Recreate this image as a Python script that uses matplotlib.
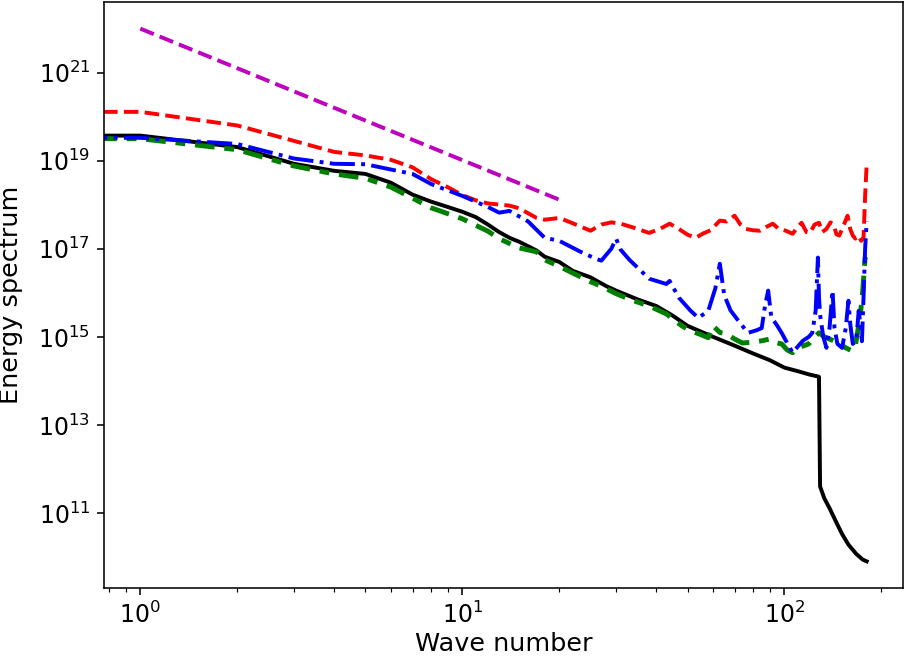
import numpy as np
import matplotlib
matplotlib.use("Agg")
import matplotlib.pyplot as plt

# -------------------------------
# Data (energies stored as log10 values)
# k = 0 is kept so the curves run to the left edge like the original
# -------------------------------
black_k = [0, 1, 2, 3, 4, 5, 6, 7, 8, 9, 10, 11, 12, 13, 14, 15, 17, 18, 20,
           22, 25, 28, 30, 35, 40, 45, 50, 60, 70, 80, 90, 100, 110, 120, 127,
           128, 129, 133, 138, 145, 151, 158, 167, 175, 180]
black_log = [19.57, 19.57, 19.31, 18.93, 18.77, 18.70, 18.50, 18.23, 18.07,
             17.95, 17.84, 17.72, 17.55, 17.38, 17.25, 17.16, 16.96, 16.82,
             16.70, 16.50, 16.35, 16.15, 16.05, 15.85, 15.70, 15.48, 15.25,
             15.00, 14.80, 14.62, 14.47, 14.30, 14.22, 14.14, 14.10, 14.09,
             11.60, 11.33, 11.11, 10.78, 10.52, 10.28, 10.07, 9.94, 9.90]

red_k = [0, 1, 2, 3, 4, 5, 6, 7, 8, 9, 10, 11, 12, 14, 15, 17, 18, 20, 22, 23,
         25, 27, 29, 31, 34, 38, 41, 44, 47, 50, 53, 56, 59, 63, 66, 70, 73,
         76, 80, 84, 88, 92, 96, 101, 106, 110, 113, 117, 120, 124, 128, 131,
         135, 139, 142, 145, 148, 152, 157, 160, 163, 166, 170, 173, 176, 178,
         180]
red_log = [20.11, 20.11, 19.80, 19.45, 19.20, 19.12, 19.02, 18.85, 18.58,
           18.40, 18.22, 18.10, 18.03, 17.98, 17.92, 17.70, 17.66, 17.70,
           17.58, 17.52, 17.41, 17.55, 17.60, 17.57, 17.48, 17.36, 17.45,
           17.57, 17.45, 17.32, 17.25, 17.35, 17.42, 17.64, 17.62, 17.75,
           17.55, 17.45, 17.42, 17.41, 17.50, 17.57, 17.45, 17.41, 17.34,
           17.50, 17.59, 17.38, 17.36, 17.55, 17.59, 17.38, 17.45, 17.60,
           17.55, 17.33, 17.30, 17.50, 17.75, 17.45, 17.30, 17.23, 17.30,
           17.18, 17.25, 18.20, 18.92]

blue_k = [0, 1, 2, 3, 4, 5, 6, 7, 8, 10, 12, 13, 14, 16, 18, 20, 23, 26, 27,
          29, 30, 31, 33, 35, 38, 43, 44, 47, 51, 54, 58, 61, 63, 65, 68, 72,
          77, 82, 85, 87, 89, 91, 95, 98, 103, 106, 110, 114, 119, 122, 125,
          127, 128, 129, 132, 135, 138, 141, 143, 146, 151, 155, 158, 160,
          163, 167, 170, 172, 174, 176, 178, 180]
blue_log = [19.52, 19.52, 19.38, 19.05, 18.93, 18.92, 18.80, 18.70, 18.47,
            18.20, 17.95, 17.82, 17.86, 17.62, 17.25, 17.18, 16.95, 16.77,
            16.73, 17.00, 17.23, 16.98, 16.75, 16.57, 16.32, 16.20, 16.27,
            15.89, 15.60, 15.43, 15.59, 16.10, 16.66, 15.95, 15.60, 15.36,
            15.09, 15.15, 15.20, 15.70, 16.05, 15.45, 15.25, 15.09, 14.80,
            14.64, 14.78, 14.91, 15.00, 15.09, 15.60, 16.80, 15.90, 15.50,
            15.00, 14.75, 15.20, 16.05, 15.20, 14.84, 14.75, 15.20, 15.82,
            15.30, 14.84, 14.90, 15.59, 15.30, 14.90, 15.90, 17.00, 17.62]

green_k = [0, 1, 2, 3, 4, 5, 6, 7, 8, 10, 12, 13, 15, 17, 18, 20, 23, 25, 27,
           30, 34, 38, 43, 48, 51, 55, 58, 60, 63, 66, 70, 74, 80, 85, 90, 95,
           98, 102, 106, 110, 115, 119, 124, 128, 133, 138, 143, 148, 155,
           162, 166, 169, 172, 175, 178, 180]
green_log = [19.50, 19.50, 19.25, 18.88, 18.70, 18.60, 18.40, 18.15, 17.93,
             17.68, 17.40, 17.23, 17.02, 16.93, 16.75, 16.60, 16.38, 16.25,
             16.15, 15.98, 15.82, 15.70, 15.52, 15.25, 15.14, 15.05, 14.98,
             15.25, 15.10, 15.07, 14.95, 14.86, 14.88, 14.91, 14.95, 14.86,
             14.84, 14.70, 14.64, 14.75, 14.80, 14.84, 15.00, 15.09, 15.00,
             14.95, 14.90, 14.84, 14.75, 14.68, 14.80, 15.14, 15.50, 16.05,
             16.80, 16.85]

ref_k = [1, 20]
ref_E = [1.0e22, 1.3e18]

# -------------------------------
# Plot
# -------------------------------
dpi = 141.4
fig = plt.figure(figsize=(905 / dpi, 657 / dpi), dpi=dpi)
ax = fig.add_axes([104 / 905, 1 - 588 / 657, 799 / 905, 586 / 657])

ax.loglog(black_k, 10 ** np.array(black_log), "k-", lw=2)
ax.loglog(red_k, 10 ** np.array(red_log), "r--", lw=2)
ax.loglog(green_k, 10 ** np.array(green_log), color="green", lw=2.5,
          dashes=(4, 2, 2, 2))
ax.loglog(blue_k, 10 ** np.array(blue_log), "b-.", lw=2)
ax.loglog(ref_k, ref_E, "m--", lw=2)

ax.tick_params(labelsize=12)
ax.set_xlabel("Wave number", fontsize=13, labelpad=2)
ax.set_ylabel("Energy spectrum", fontsize=13)
ax.yaxis.set_label_coords(-0.102, 0.5)

fig.savefig("out.png", dpi=dpi)
